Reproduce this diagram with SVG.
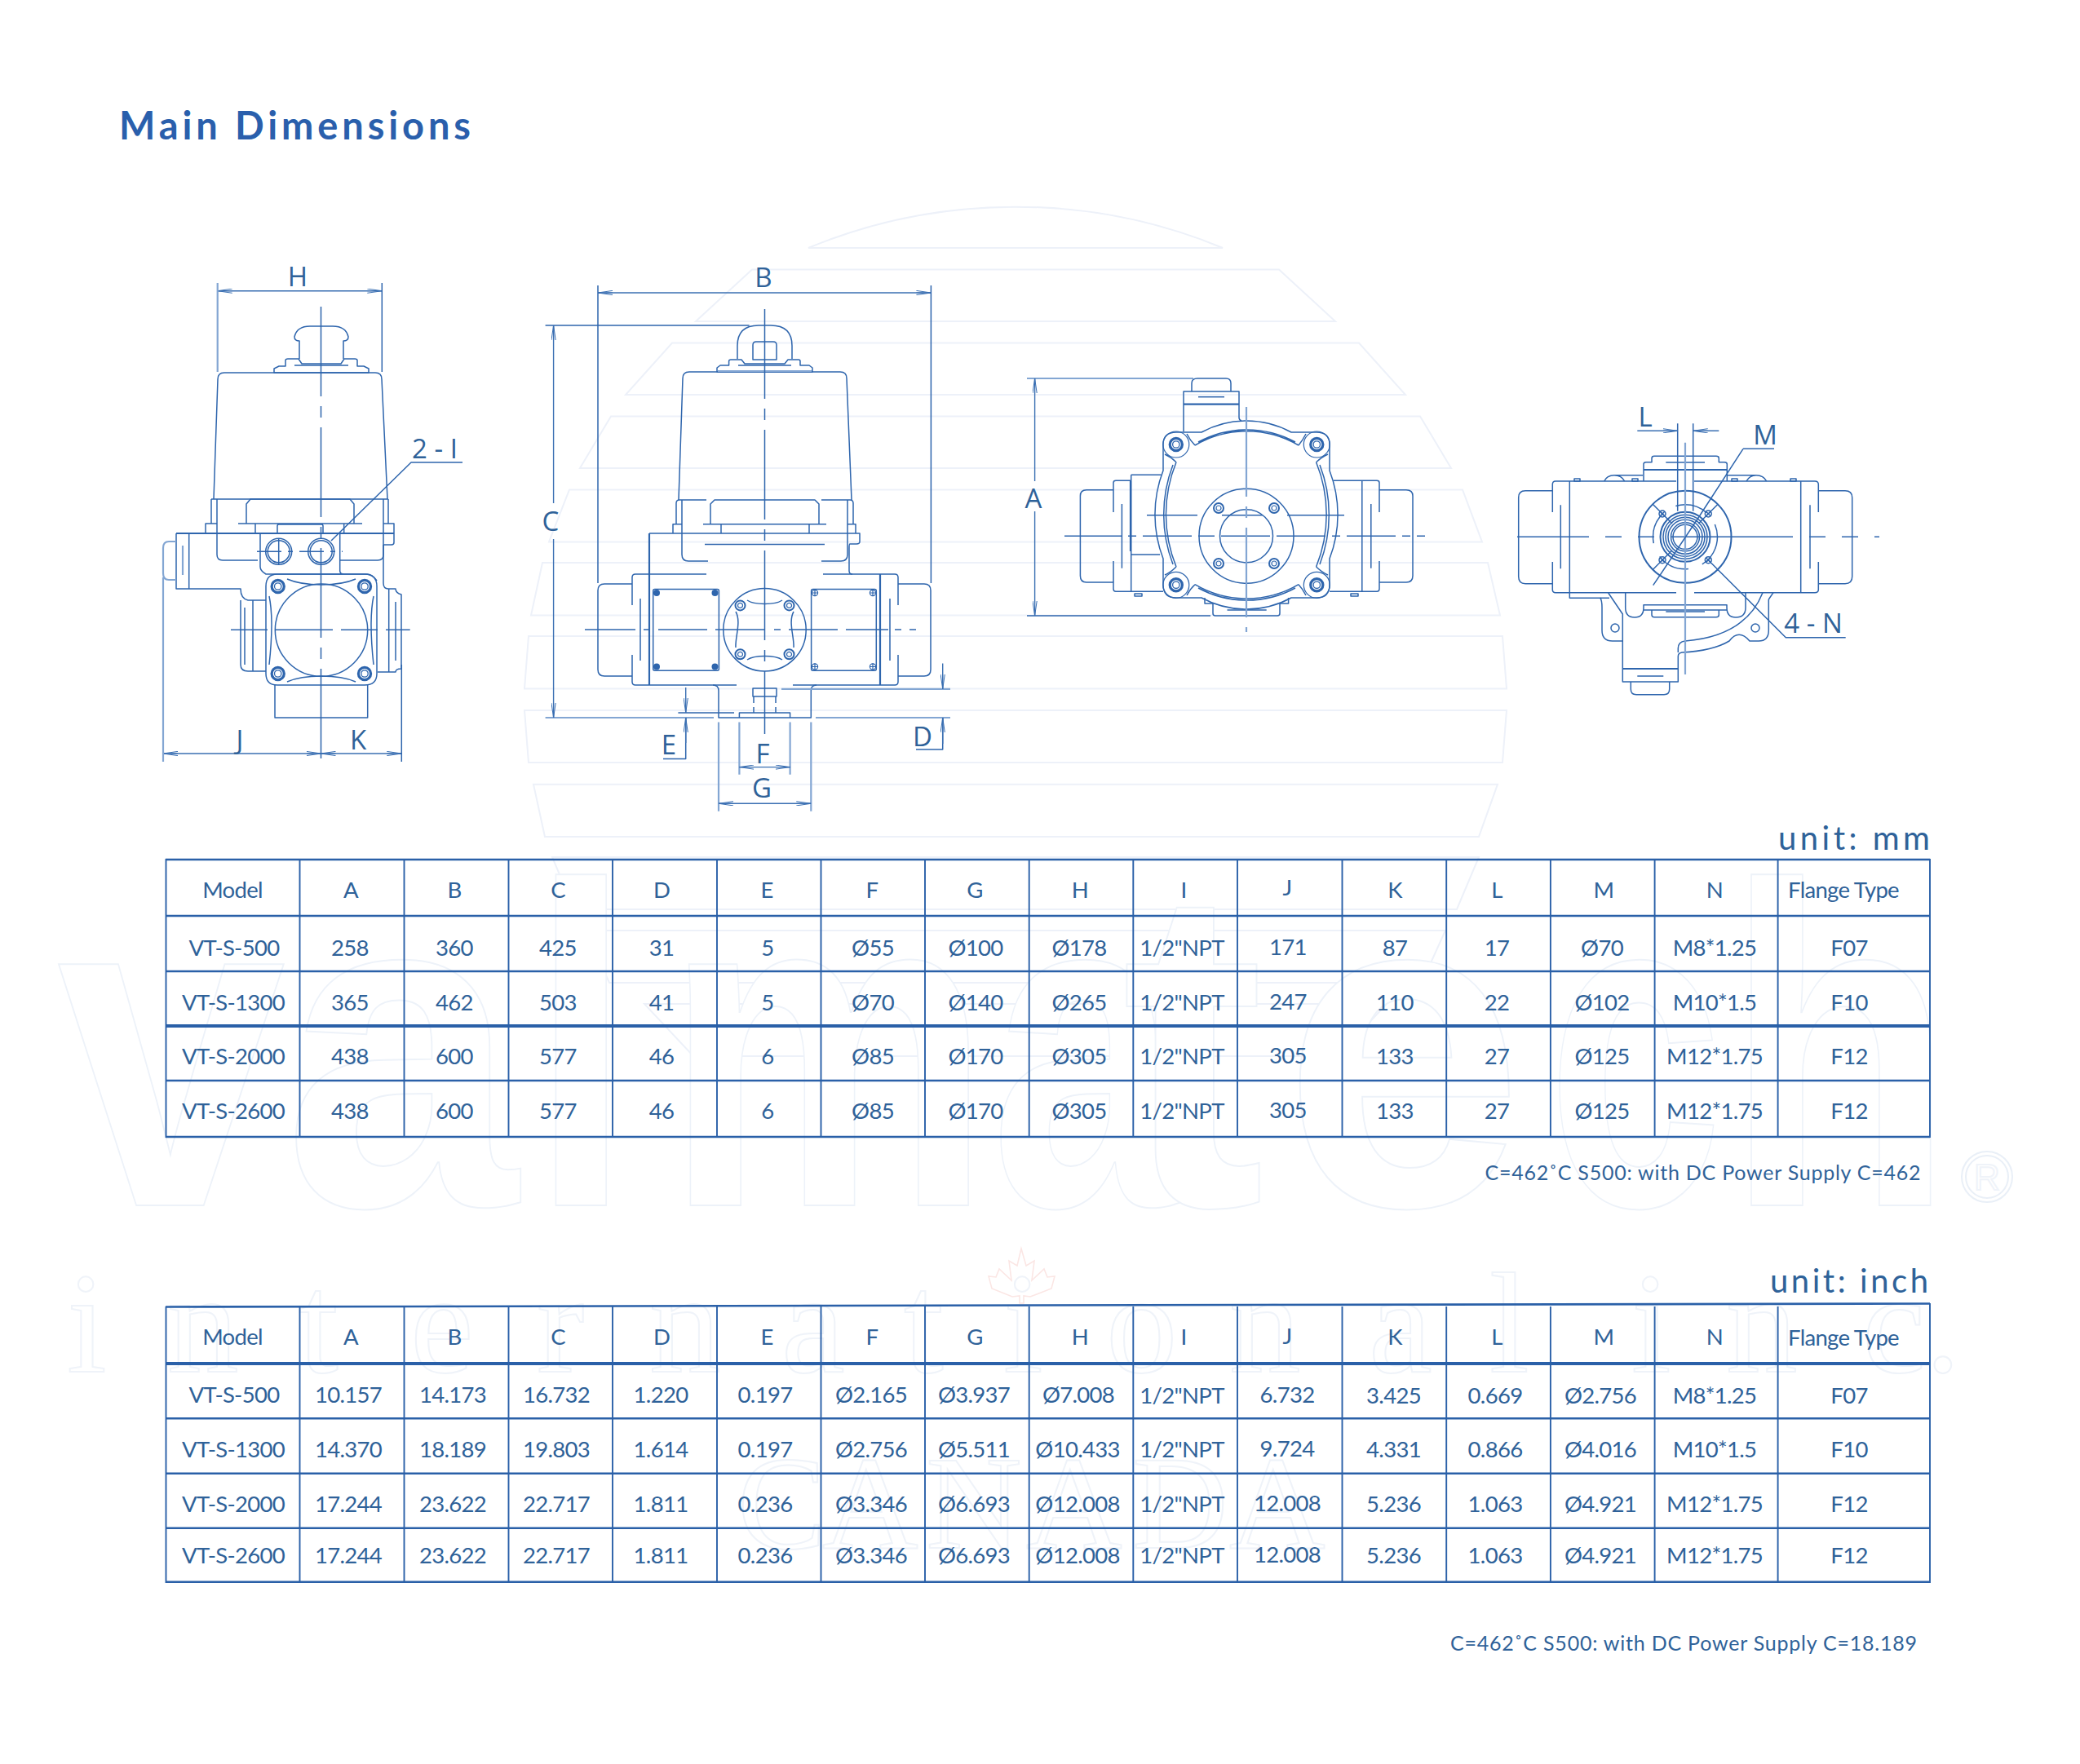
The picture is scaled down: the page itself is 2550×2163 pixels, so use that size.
<svg xmlns="http://www.w3.org/2000/svg" width="2550" height="2163" viewBox="0 0 2550 2163">
<style>
text{font-family:"Lato","Liberation Sans",sans-serif}
.t{font-size:27.500px;fill:#2f6299;text-anchor:middle;letter-spacing:-.7px}
.l{font-family:"Open Sans","Liberation Sans",sans-serif;font-size:33px;fill:#2f6299;text-anchor:middle}
.wm{font-family:"Liberation Sans",sans-serif;font-weight:700;font-size:560px;fill:#fff;stroke:#edf2f9;stroke-width:2}
.ws{font-family:"Liberation Serif",serif;fill:#fff;stroke:#eff3f9;stroke-width:2}
.band{fill:none;stroke:#edf1f9;stroke-width:2}
.d,.d *{fill:none;stroke:#2e65ad;stroke-width:1.5;stroke-linejoin:round}
.lt{stroke:#83a6d3!important;stroke-width:2.2!important}
.cl{stroke-dasharray:110 12 14 12}
.a{fill:none;stroke:#3a6fb2;stroke-width:1.4;marker-start:url(#ar);marker-end:url(#ar)}
.a1{fill:none;stroke:#3a6fb2;stroke-width:1.4;marker-start:url(#ar)}
.grid line{stroke:#2a60a8;stroke-width:1.9}
.grid .h{stroke-width:2.6}
.grid .hk{stroke-width:4}
</style>
<defs>
<marker id="ar" viewBox="0 0 18 6" refX="18" refY="3" markerWidth="18" markerHeight="6" markerUnits="userSpaceOnUse" orient="auto-start-reverse"><path d="M0 .4L18 3L0 5.6M0 3H18" fill="none" stroke="#3a6fb2" stroke-width="1"/></marker>
<g id="bolt" fill="none" stroke="#2e65ad"><circle r="7.6" stroke-width="3.2"/><circle r="4.2" stroke-width="1.3"/></g>
<g id="boltS" fill="none" stroke="#2e65ad"><circle r="6" stroke-width="2"/><circle r="3" stroke-width="1.2"/></g>
</defs>
<rect width="2550" height="2163" fill="#fff"/>
<g id="watermark">
<g id="globe" class="band">
<path d="M991 304A612 558 0 0 1 1499 304Z"/>
<path d="M922 330.500H1568L1637 394H853Z"/>
<path d="M824 420.500H1666L1723 484H767Z"/>
<path d="M749 510.500H1741L1779 574H711Z"/>
<path d="M698 600.500H1793L1817 664.500H673Z"/>
<path d="M665 690H1824L1839 754.500H651Z"/>
<path d="M648 780H1842L1847 844.500H643Z"/>
<path d="M643 871H1847L1842 935H648Z"/>
<path d="M654 961.700H1836L1813 1026H668Z"/>
<path d="M677 1051H1813L1786 1115H704Z"/>
<path d="M718 1141H1772L1743 1205H747Z"/>
<path d="M790 1231H1700L1640 1295H850Z"/>
</g>
<g id="logo">
<text class="wm" x="70" y="1478" textLength="280" lengthAdjust="spacingAndGlyphs">v</text>
<text class="wm" x="348" y="1478" textLength="287" lengthAdjust="spacingAndGlyphs">a</text>
<text class="wm" x="650" y="1478" textLength="125" lengthAdjust="spacingAndGlyphs">l</text>
<text class="wm" x="815" y="1478" textLength="400" lengthAdjust="spacingAndGlyphs">m</text>
<text class="wm" x="1215" y="1478" textLength="230" lengthAdjust="spacingAndGlyphs">a</text>
<text class="wm" x="1375" y="1478" textLength="175" lengthAdjust="spacingAndGlyphs">t</text>
<text class="wm" x="1573" y="1478" textLength="295" lengthAdjust="spacingAndGlyphs">e</text>
<text class="wm" x="1897" y="1478" textLength="215" lengthAdjust="spacingAndGlyphs">c</text>
<text class="wm" x="2115" y="1478" textLength="280" lengthAdjust="spacingAndGlyphs">h</text>
<circle cx="2436" cy="1443" r="31" fill="#fff" stroke="#e9eff7" stroke-width="2"/>
<circle cx="2436" cy="1443" r="26" fill="none" stroke="#e9eff7" stroke-width="2"/>
<text class="ws" x="2436" y="1459" font-size="44" text-anchor="middle" style="font-family:'Liberation Sans',sans-serif">R</text>
<text class="ws" font-size="175" y="1682" x="82 205 366 503 658 796 958 1108 1230 1356 1507 1678 1826 1880 2000 2116 2283 2360">international inc.</text>
<text class="ws" font-size="163" y="1898" x="904 1008 1135 1258 1388 1507">CANADA</text>
<path id="leaf" d="M1252 1531L1258 1552L1268 1546L1265 1570L1280 1556L1284 1566L1293 1565L1289 1580L1263 1590L1255 1589V1598H1250V1589L1241 1590L1216 1580L1212 1565L1221 1566L1225 1556L1240 1570L1237 1546L1247 1552Z" fill="none" stroke="#fbe6e4" stroke-width="1.6"/>
</g>
</g>

<text x="146" y="171" font-size="47" font-weight="700" fill="#2a5fac" textLength="431">Main Dimensions</text>

<g id="view-side" class="d">
<path d="M262 612L267 465Q267 457 275 457H460Q468 457 468 465L475 612"/>
<path d="M367 440V418Q361 418 361 413Q364 400 380 400H408Q424 400 427 413Q427 418 421 418V440"/>
<path d="M336 457V452L342 449H350V442Q350 440 353 440H366L370 446H418L422 440H435Q438 440 438 442V449H446L452 452V457ZM361 448H427"/>
<path d="M259 612H476M266 612V680Q266 687 273 687H316M470 612V680Q470 687 463 687H416M259 612V642M476 612V642"/>
<path d="M302 642V618L307 612H429L434 618V642M292 642H444M313 642V654M421.700 642V654M340 654V645Q340 643 342 643H394Q396 643 396 645V654"/>
<path d="M252 654V642H266M470 642H483V665Q483 668 480 668H470"/>
<path d="M216 654H483" style="stroke-width:2.200"/>
<path d="M216 654V722H295Q295 734 304 736H326M231.700 654V722"/>
<path d="M216 664H207Q200 664 200 672V703Q200 711 207 711H216M224 669V705" class="lt"/>
<path d="M295 736V815Q295 823 304 823H326M310 736V823M300 745V815"/>
<path d="M319 654V695Q319 700 326 704H450Q456 704 462 712M416.700 654V700Q416.700 704 422 704"/>
<path d="M470 668V715Q470 722 476 722H485Q485 727 492 729V820Q485 820 485 824H463M476.700 722V824M485 738V810"/>
<path d="M337 840V880H450.700V840"/>
<path d="M340 704Q326 704 326 719V826Q326 840 340 840H447Q462 840 462 826V719Q462 704 447 704H340Z"/>
<path d="M352 710Q368 717 394 717Q420 717 436 710M458 731Q452 760 458 815M352 836Q368 829 394 829Q420 829 436 836M330 731Q336 760 330 815"/>
<circle cx="394" cy="772.600" r="56.700"/>
<circle cx="341.700" cy="676.300" r="16"/><circle cx="341.700" cy="676.300" r="13.500"/>
<circle cx="393.700" cy="676.300" r="16"/><circle cx="393.700" cy="676.300" r="13.500"/>
<path d="M315 676.300H420" style="stroke-dasharray:30 8 6 8"/>
<path d="M341.700 660V692"/>
<path class="cl" d="M393.500 376V932"/>
<path d="M283 772.300H502.700" style="stroke-dasharray:45 10 70 10"/>
<path d="M406 663L504 567H567"/>
</g>
<g id="view-side-bolts"><use href="#bolt" x="340.700" y="719"/><use href="#bolt" x="447" y="719"/><use href="#bolt" x="340.700" y="826"/><use href="#bolt" x="447" y="826"/></g>

<g id="view-front" class="d">
<path d="M832 613L837 464Q837 456 845 456H1030Q1038 456 1038 464L1044 613"/>
<path d="M904 440V424Q904 399 930 399H945Q971 399 971 424V440"/>
<path d="M923 441V423Q923 419 927 419H948Q952 419 952 423V441Z"/>
<path d="M879 456V451L883 448H893.600V443Q893.600 441 896 441H909L913 446H962L966 441H979Q981 441 981 443V448H992L996 451V456Z"/>
<path class="lt" d="M880 455H995"/>
<path d="M905 448H970"/>
<path d="M829 642V617Q829 613 833 613H866M1007 613H1042Q1046 613 1046 617V642M836 613V680Q836 688 844 688H868M1039 613V680Q1039 688 1031 688H1007"/>
<path d="M871 642V618L876 613H999L1004 618V642M862 642.700H1013M884 642.700V654M992 642.700V654"/>
<path d="M825 654V642.700H836M1039 642.700H1049V654"/>
<path d="M796 654H1054V664Q1054 667 1050 667H1042Q1041 667 1041 672V700Q1041 704 1045 704"/>
<path d="M796 654V840" style="stroke-width:2.200"/>
<path d="M864 667.400H1011"/>
<path d="M866 704H779Q775 704 775 708V742M775 803V836Q775 840 779 840H903M972 840H1097Q1101 840 1101 836V803M1101 742V708Q1101 704 1097 704H1009M785 734V810M1091 734V810"/>
<path d="M1079 704V840" style="stroke-width:2.200"/>
<path d="M775 716H741Q733 716 733 724V821Q733 829 741 829H775M1101 716H1133Q1141 716 1141 724V821Q1141 829 1133 829H1101"/>
<rect x="800.700" y="722.500" width="80.700" height="99.700" rx="2"/>
<rect x="994.600" y="722.500" width="79.700" height="99.700" rx="2"/>
<circle cx="937.500" cy="772.300" r="50.700"/>
<path d="M916 736C925 742 950 742 959 736M973 750C966 762 974 782 973 794M959 809C950 803 925 803 916 809M902 794C901 782 909 762 902 750"/>
<path d="M717 772H1158.600" style="stroke-dasharray:62 10 8 10 60 10 60 12 8 10 60 10 52 8 8 10 8"/>
<path class="cl" d="M937.500 379V900"/>
<path d="M874 840Q881 840 881 847V880H994.300V847Q994.300 840 1001 840"/>
<path d="M923 844H952V854H923Z"/>
<path d="M924 854V874M951 854V874" style="stroke-dasharray:8 5"/>
<path d="M906.400 880V874H968.600V880"/>
<path class="lt" d="M668.600 880H875M1000 880H1165"/>
<path class="lt" d="M958 844.800H1165"/>
<path d="M668.600 399H918.600"/>
<path d="M831.400 874H900"/>
<path d="M733 350V715M1141.400 350V715"/>
<path d="M1155.700 880V919H1123M840.700 880V930.600H813"/>
<path d="M906.400 885.500V949.700M968.600 885.500V949.700" class="lt"/>
<path d="M881 885.500V994.800M994.300 885.500V994.800" class="lt"/>
</g>
<g id="view-front-details" fill="#2e65ad">
<circle cx="805" cy="727" r="4"/><circle cx="876.500" cy="727" r="4"/><circle cx="805" cy="817.500" r="4"/><circle cx="876.500" cy="817.500" r="4"/>
<g fill="none" stroke="#2e65ad" stroke-width="1.2">
<circle cx="999" cy="727" r="3.600"/><circle cx="1070" cy="727" r="3.600"/><circle cx="999" cy="817.500" r="3.600"/><circle cx="1070" cy="817.500" r="3.600"/>
<path d="M995 727h8M999 723v8M1066 727h8M1070 723v8M995 817.500h8M999 813.500v8M1066 817.500h8M1070 813.500v8"/>
</g>
<use href="#boltS" x="907.500" y="742.400"/><use href="#boltS" x="967.500" y="742.400"/><use href="#boltS" x="907.500" y="802.300"/><use href="#boltS" x="967.500" y="802.300"/>
</g>

<g id="view-top" class="d">
<path class="lt" d="M1259 464H1463"/>
<path d="M1259 755H1484"/>
<path d="M1461 480V470Q1461 464 1468 464H1503Q1509 464 1509 470V480"/>
<path d="M1451 529V480H1519V512Q1519 515 1522 516"/>
<path d="M1451 495.700H1519" style="stroke-width:2.200"/>
<path d="M1469 486.700H1501"/>
<path d="M1473 530A115 115 0 0 1 1583 530H1614Q1630 530 1630 545V577A150 150 0 0 1 1630 685V717Q1630 733 1614 733H1583A115 115 0 0 1 1473 733H1442Q1426 733 1426 717V685A150 150 0 0 1 1426 577V545Q1426 530 1442 530Z"/>
<path d="M1465 546A125 125 0 0 1 1592 546M1469 542A125 125 0 0 1 1588 542M1465 716.700A125 125 0 0 0 1592 716.700M1469 721A125 125 0 0 0 1588 721M1442 566.700A170 170 0 0 0 1442 695M1438 570A170 170 0 0 0 1438 692M1613.600 566.700A170 170 0 0 1 1613.600 695M1618 570A170 170 0 0 1 1618 692"/>
<path d="M1465 546Q1459 540 1455 532M1592 546Q1597 540 1601 532M1465 716.700Q1459 722 1455 730M1592 716.700Q1597 722 1601 730M1442 566.700Q1435 560 1428 557M1613.600 566.700Q1621 560 1628 557M1442 695Q1435 702 1428 705M1613.600 695Q1621 702 1628 705"/>
<path d="M1477 733V740H1487V752Q1487 755 1490 755H1566Q1569 755 1569 752V740H1579.600V733M1504.500 748H1552.700"/>
<circle cx="1528" cy="657.300" r="58"/>
<circle cx="1528" cy="657.300" r="32.500"/>
<path d="M1365 600.700H1332Q1324.400 600.700 1324.400 608V706Q1324.400 714 1332 714H1365M1691 600.700H1724Q1732 600.700 1732 608V706Q1732 714 1724 714H1691"/>
<path d="M1365 628V592Q1365 589.300 1368 589.300H1386M1365 688V722Q1365 725.300 1368 725.300H1426M1375.400 618V696.700"/>
<path d="M1386 590V676" style="stroke-width:2.200"/>
<path d="M1386.700 582.300H1423.600M1386.700 582.300V725M1386.700 680H1422"/>
<path d="M1635 589.300H1688Q1691 589.300 1691 592V628M1691 688V722Q1691 725.300 1688 725.300H1630M1669.800 589.300V725.300M1680.800 618V696.700"/>
<path d="M1391 728H1400V731H1391ZM1656 728H1665V731H1656Z"/>
<path d="M1305 657.300H1747" style="stroke-dasharray:70 8 10 8 60 8 20 8 60 8 60 8 10 8 60 8 10 8"/>
<path d="M1406 631.700H1650" style="stroke-dasharray:62 30 50 30 70"/>
<path class="lt" d="M1528 499V775" style="stroke-dasharray:110 12 14 12"/>
</g>
<g id="view-top-bolts">
<g fill="none" stroke="#2e65ad" stroke-width="1.200"><circle cx="1441.800" cy="545" r="16"/><circle cx="1614.300" cy="545" r="16"/><circle cx="1441.800" cy="717.300" r="16"/><circle cx="1614.300" cy="717.300" r="16"/></g>
<use href="#bolt" x="1441.800" y="545"/><use href="#bolt" x="1614.300" y="545"/><use href="#bolt" x="1441.800" y="717.300"/><use href="#bolt" x="1614.300" y="717.300"/>
<use href="#boltS" x="1494" y="623"/><use href="#boltS" x="1562" y="623"/><use href="#boltS" x="1494" y="691"/><use href="#boltS" x="1562" y="691"/>
</g>

<g id="view-bottom" class="d">
<path d="M1903.300 628V594Q1903.300 590 1907 590H2055M2077 590H2225Q2229.300 590 2229.300 594V628M1903.300 689V723Q1903.300 726.700 1907 726.700H2055M2077 726.700H2225Q2229.300 726.700 2229.300 723V689"/>
<path d="M1924.300 590V733.300H1973M2207.700 590V726.700"/>
<path d="M1903.300 601.700H1870Q1861.700 601.700 1861.700 610V707Q1861.700 715.700 1870 715.700H1903.300M2229.300 601.700H2262Q2270.700 601.700 2270.700 610V707Q2270.700 715.700 2262 715.700H2229.300"/>
<path d="M1913.300 619.300V697.300M2219 619.300V697.300"/>
<circle cx="2066" cy="658.300" r="56.500" style="stroke-width:2"/>
<circle cx="2066" cy="658.300" r="39.500" style="stroke-dasharray:40 18"/>
<circle cx="2066" cy="658.300" r="30.500" style="stroke-width:2"/><circle cx="2066" cy="658.300" r="27"/><circle cx="2066" cy="658.300" r="24"/><circle cx="2066" cy="658.300" r="21"/><circle cx="2066" cy="658.300" r="17.500"/><circle cx="2066" cy="658.300" r="15"/>
<path d="M2038 630m-12-12l24 24M2094.300 630m12-12l-24 24M2038 686.700m-12 12l24-24"/>
<circle cx="2038" cy="630" r="4"/><circle cx="2094.300" cy="630" r="4"/><circle cx="2038" cy="686.700" r="4"/><circle cx="2094.300" cy="686.700" r="4"/>
<path d="M2035 627l6 6M2041 627l-6 6M2091.300 627l6 6M2097.300 627l-6 6M2035 683.700l6 6M2041 683.700l-6 6M2091.300 683.700l6 6M2097.300 683.700l-6 6"/>
<path d="M2015 590V569Q2015 566.700 2018 566.700H2025V562Q2025 559.300 2028 559.300H2104Q2107.300 559.300 2107.300 562V566.700H2114Q2117.300 566.700 2117.300 569V590M2042.300 567H2090"/>
<path d="M2015 576H2117.300" style="stroke-width:2"/>
<path d="M1930 590V587H1937V590ZM2001 590V587H2008V590ZM2123 590V587H2130V590ZM2195 590V587H2202V590ZM1966.700 590Q1970 582.700 1979 582.700Q1988 582.700 1991.700 590M2141 590Q2145 582.700 2153 582.700Q2162 582.700 2165.700 590M1979 582.700H2014M2117 582.700H2153"/>
<path d="M1992.700 726.700V745Q1992.700 757 2004 757Q2015 757 2015 745V741.700H2117V745Q2117 757 2128 757Q2140 757 2140 745V726.700M2015 748H2117M2025 748V754Q2025 756.700 2028 756.700H2104Q2107.300 756.700 2107.300 754V748M2042.300 750H2090"/>
<path d="M1971.700 727L1989.300 753V836H2057.300V805Q2057.300 800.700 2062 800Q2100 798 2120 786Q2131.700 770.700 2145 786H2156Q2168.300 786 2168.300 773V735"/>
<path d="M2057.300 800V795Q2057.300 787 2066 786Q2140 780 2161 726.700M2168.300 735L2174 726.700"/>
<path d="M1961.700 733Q1964 736 1964 745V773Q1964 786 1976.700 786H1989.300"/>
<circle cx="1980" cy="770" r="5"/><circle cx="2152" cy="770" r="5"/>
<path d="M1989.300 820H2057.300" style="stroke-width:2"/>
<path d="M1999.300 836V845Q1999.300 851.700 2006 851.700H2040Q2046.700 851.700 2046.700 845V836M2007.300 829H2039.300"/>
<path d="M1860 658.300H2304" style="stroke-dasharray:88 20 20 20 20 20 150 20 20 20 20 20 120"/>
<path class="lt" d="M2066 542.700V827"/>
<path d="M2056.700 519.300V626.700M2075.700 519.300V626.700"/>
<path d="M2137 550.300H2175M2137 550.300L2082.700 634L2026.700 717.700"/>
<path d="M2262.700 781.700H2189.300L2094.300 686.700"/>
</g>

<g id="dimensions">
<path class="a" d="M266.700 356.700H468.300"/><path class="d lt" d="M266.700 347V456"/><path class="d" d="M468.300 347V456"/>
<path class="a" d="M200 924H393.500"/><path class="a" d="M393.500 924H492.300"/>
<path class="d lt" d="M200 708V934"/><path class="d" d="M492.300 815V934"/>
<path class="a" d="M733 359H1141.400"/>
<path class="a1" d="M678.600 399V617"/><path class="a1" d="M678.600 880V661"/>
<path class="a1" d="M1155.700 844.800V813.500"/><path class="a1" d="M1155.700 880V912"/>
<path class="a1" d="M840.700 874V843"/><path class="a1" d="M840.700 880V911"/>
<path class="a" d="M906.400 940.600H968.600"/>
<path class="a" d="M881 985.300H994.300"/>
<path class="a1" d="M1268.600 464V590"/><path class="a1" d="M1268.600 755V627"/>
<path class="a1" d="M2056.700 528.300H2007.300"/><path class="a1" d="M2075.700 528.300H2107.300"/>
</g>
<g id="labels">
<text class="l" x="365" y="351">H</text>
<text class="l" x="533" y="562">2 - I</text>
<text class="l" x="294" y="919">J</text>
<text class="l" x="439" y="919">K</text>
<text class="l" x="936" y="352">B</text>
<text class="l" x="675" y="651">C</text>
<text class="l" x="1131" y="915">D</text>
<text class="l" x="820" y="925">E</text>
<text class="l" x="935" y="936">F</text>
<text class="l" x="934" y="978">G</text>
<text class="l" x="1267" y="623">A</text>
<text class="l" x="2017" y="523">L</text>
<text class="l" x="2164" y="545">M</text>
<text class="l" x="2223" y="776">4 - N</text>
</g>

<g id="table-mm">
<text x="2180" y="1042" font-size="40" fill="#2f6299" textLength="186">unit: mm</text>
<g class="grid">
<line class="h" x1="203" y1="1054" x2="2366" y2="1054"/><line class="h" x1="203" y1="1123" x2="2366" y2="1123"/><line class="h" x1="203" y1="1191" x2="2366" y2="1191"/><line class="hk" x1="203" y1="1258" x2="2366" y2="1258"/><line class="h" x1="203" y1="1325" x2="2366" y2="1325"/><line class="h" x1="203" y1="1394" x2="2366" y2="1394"/>
<line x1="203.500" y1="1053" x2="203.500" y2="1395"/><line x1="367.500" y1="1054" x2="367.500" y2="1394"/><line x1="495.500" y1="1054" x2="495.500" y2="1394"/><line x1="623.500" y1="1054" x2="623.500" y2="1394"/><line x1="751" y1="1054" x2="751" y2="1394"/><line x1="879" y1="1054" x2="879" y2="1394"/><line x1="1006.500" y1="1054" x2="1006.500" y2="1394"/><line x1="1134" y1="1054" x2="1134" y2="1394"/><line x1="1261.700" y1="1054" x2="1261.700" y2="1394"/><line x1="1389.300" y1="1054" x2="1389.300" y2="1394"/><line x1="1517" y1="1054" x2="1517" y2="1394"/><line x1="1645.500" y1="1054" x2="1645.500" y2="1394"/><line x1="1773.200" y1="1054" x2="1773.200" y2="1394"/><line x1="1900.900" y1="1054" x2="1900.900" y2="1394"/><line x1="2028.600" y1="1054" x2="2028.600" y2="1394"/><line x1="2179.600" y1="1054" x2="2179.600" y2="1394"/><line x1="2366" y1="1053" x2="2366" y2="1395"/>
</g>
<g id="mm-head"><text class="t" x="285" y="1101">Model</text><text class="t" x="430" y="1101">A</text><text class="t" x="557" y="1101">B</text><text class="t" x="684" y="1101">C</text><text class="t" x="811" y="1101">D</text><text class="t" x="940" y="1101">E</text><text class="t" x="1069" y="1101">F</text><text class="t" x="1195" y="1101">G</text><text class="t" x="1324" y="1101">H</text><text class="t" x="1451" y="1101">I</text><text class="t" x="1578" y="1098">J</text><text class="t" x="1710" y="1101">K</text><text class="t" x="1835" y="1101">L</text><text class="t" x="1966" y="1101">M</text><text class="t" x="2102" y="1101">N</text><text class="t" x="2260" y="1101">Flange Type</text></g>
<g id="mm-r1"><text class="t" x="287" y="1172">VT-S-500</text><text class="t" x="429" y="1172">258</text><text class="t" x="557" y="1172">360</text><text class="t" x="684" y="1172">425</text><text class="t" x="811" y="1172">31</text><text class="t" x="941" y="1172">5</text><text class="t" x="1070" y="1172">Ø55</text><text class="t" x="1196" y="1172">Ø100</text><text class="t" x="1323" y="1172">Ø178</text><text class="t" x="1449" y="1172">1/2"NPT</text><text class="t" x="1579" y="1171">171</text><text class="t" x="1710" y="1172">87</text><text class="t" x="1835" y="1172">17</text><text class="t" x="1964" y="1172">Ø70</text><text class="t" x="2102" y="1172">M8*1.25</text><text class="t" x="2267" y="1172">F07</text></g>
<g id="mm-r2"><text class="t" x="286" y="1239">VT-S-1300</text><text class="t" x="429" y="1239">365</text><text class="t" x="557" y="1239">462</text><text class="t" x="684" y="1239">503</text><text class="t" x="811" y="1239">41</text><text class="t" x="941" y="1239">5</text><text class="t" x="1070" y="1239">Ø70</text><text class="t" x="1196" y="1239">Ø140</text><text class="t" x="1323" y="1239">Ø265</text><text class="t" x="1449" y="1239">1/2"NPT</text><text class="t" x="1579" y="1238">247</text><text class="t" x="1710" y="1239">110</text><text class="t" x="1835" y="1239">22</text><text class="t" x="1964" y="1239">Ø102</text><text class="t" x="2102" y="1239">M10*1.5</text><text class="t" x="2267" y="1239">F10</text></g>
<g id="mm-r3"><text class="t" x="286" y="1305">VT-S-2000</text><text class="t" x="429" y="1305">438</text><text class="t" x="557" y="1305">600</text><text class="t" x="684" y="1305">577</text><text class="t" x="811" y="1305">46</text><text class="t" x="941" y="1305">6</text><text class="t" x="1070" y="1305">Ø85</text><text class="t" x="1196" y="1305">Ø170</text><text class="t" x="1323" y="1305">Ø305</text><text class="t" x="1449" y="1305">1/2"NPT</text><text class="t" x="1579" y="1304">305</text><text class="t" x="1710" y="1305">133</text><text class="t" x="1835" y="1305">27</text><text class="t" x="1964" y="1305">Ø125</text><text class="t" x="2102" y="1305">M12*1.75</text><text class="t" x="2267" y="1305">F12</text></g>
<g id="mm-r4"><text class="t" x="286" y="1372">VT-S-2600</text><text class="t" x="429" y="1372">438</text><text class="t" x="557" y="1372">600</text><text class="t" x="684" y="1372">577</text><text class="t" x="811" y="1372">46</text><text class="t" x="941" y="1372">6</text><text class="t" x="1070" y="1372">Ø85</text><text class="t" x="1196" y="1372">Ø170</text><text class="t" x="1323" y="1372">Ø305</text><text class="t" x="1449" y="1372">1/2"NPT</text><text class="t" x="1579" y="1371">305</text><text class="t" x="1710" y="1372">133</text><text class="t" x="1835" y="1372">27</text><text class="t" x="1964" y="1372">Ø125</text><text class="t" x="2102" y="1372">M12*1.75</text><text class="t" x="2267" y="1372">F12</text></g>
<text x="1820.500" y="1447" font-size="25" fill="#2f6299" textLength="534">C=462˚C S500: with DC Power Supply C=462</text>
</g>

<g id="table-inch">
<text x="2170" y="1585" font-size="40" fill="#2f6299" textLength="194">unit: inch</text>
<g class="grid">
<line class="h" x1="203" y1="1602.500" x2="2366" y2="1598.500"/><line class="hk" x1="203" y1="1672" x2="2366" y2="1672"/><line class="h" x1="203" y1="1739.300" x2="2366" y2="1739.300"/><line class="h" x1="203" y1="1806.700" x2="2366" y2="1806.700"/><line class="h" x1="203" y1="1873.700" x2="2366" y2="1873.700"/><line class="h" x1="203" y1="1939.700" x2="2366" y2="1939.700"/>
<line x1="203.500" y1="1602" x2="203.500" y2="1941"/><line x1="367.500" y1="1603" x2="367.500" y2="1940"/><line x1="495.500" y1="1603" x2="495.500" y2="1940"/><line x1="623.500" y1="1602" x2="623.500" y2="1940"/><line x1="751" y1="1602" x2="751" y2="1940"/><line x1="879" y1="1602" x2="879" y2="1940"/><line x1="1006.500" y1="1602" x2="1006.500" y2="1940"/><line x1="1134" y1="1602" x2="1134" y2="1940"/><line x1="1261.700" y1="1602" x2="1261.700" y2="1940"/><line x1="1389.300" y1="1602" x2="1389.300" y2="1940"/><line x1="1517" y1="1602" x2="1517" y2="1940"/><line x1="1645.500" y1="1602" x2="1645.500" y2="1940"/><line x1="1773.200" y1="1602" x2="1773.200" y2="1940"/><line x1="1900.900" y1="1602" x2="1900.900" y2="1940"/><line x1="2028.600" y1="1602" x2="2028.600" y2="1940"/><line x1="2179.600" y1="1602" x2="2179.600" y2="1940"/><line x1="2366" y1="1598" x2="2366" y2="1941"/>
</g>
<g id="in-head"><text class="t" x="285" y="1649">Model</text><text class="t" x="430" y="1649">A</text><text class="t" x="557" y="1649">B</text><text class="t" x="684" y="1649">C</text><text class="t" x="811" y="1649">D</text><text class="t" x="940" y="1649">E</text><text class="t" x="1069" y="1649">F</text><text class="t" x="1195" y="1649">G</text><text class="t" x="1324" y="1649">H</text><text class="t" x="1451" y="1649">I</text><text class="t" x="1578" y="1648">J</text><text class="t" x="1710" y="1649">K</text><text class="t" x="1835" y="1649">L</text><text class="t" x="1966" y="1649">M</text><text class="t" x="2102" y="1649">N</text><text class="t" x="2260" y="1650">Flange Type</text></g>
<g id="in-r1"><text class="t" x="287" y="1720">VT-S-500</text><text class="t" x="427" y="1720">10.157</text><text class="t" x="555" y="1720">14.173</text><text class="t" x="682" y="1720">16.732</text><text class="t" x="810" y="1720">1.220</text><text class="t" x="938" y="1720">0.197</text><text class="t" x="1068" y="1720">Ø2.165</text><text class="t" x="1194" y="1720">Ø3.937</text><text class="t" x="1322" y="1720">Ø7.008</text><text class="t" x="1449" y="1721">1/2"NPT</text><text class="t" x="1578" y="1720">6.732</text><text class="t" x="1708.500" y="1721">3.425</text><text class="t" x="1833" y="1721">0.669</text><text class="t" x="1962" y="1721">Ø2.756</text><text class="t" x="2102" y="1721">M8*1.25</text><text class="t" x="2267" y="1721">F07</text></g>
<g id="in-r2"><text class="t" x="286" y="1787">VT-S-1300</text><text class="t" x="427" y="1787">14.370</text><text class="t" x="555" y="1787">18.189</text><text class="t" x="682" y="1787">19.803</text><text class="t" x="810" y="1787">1.614</text><text class="t" x="938" y="1787">0.197</text><text class="t" x="1068" y="1787">Ø2.756</text><text class="t" x="1194" y="1787">Ø5.511</text><text class="t" x="1321" y="1787">Ø10.433</text><text class="t" x="1449" y="1787">1/2"NPT</text><text class="t" x="1578" y="1786">9.724</text><text class="t" x="1708.500" y="1787">4.331</text><text class="t" x="1833" y="1787">0.866</text><text class="t" x="1962" y="1787">Ø4.016</text><text class="t" x="2102" y="1787">M10*1.5</text><text class="t" x="2267" y="1787">F10</text></g>
<g id="in-r3"><text class="t" x="286" y="1854">VT-S-2000</text><text class="t" x="427" y="1854">17.244</text><text class="t" x="555" y="1854">23.622</text><text class="t" x="682" y="1854">22.717</text><text class="t" x="810" y="1854">1.811</text><text class="t" x="938" y="1854">0.236</text><text class="t" x="1068" y="1854">Ø3.346</text><text class="t" x="1194" y="1854">Ø6.693</text><text class="t" x="1321" y="1854">Ø12.008</text><text class="t" x="1449" y="1854">1/2"NPT</text><text class="t" x="1578" y="1853">12.008</text><text class="t" x="1708.500" y="1854">5.236</text><text class="t" x="1833" y="1854">1.063</text><text class="t" x="1962" y="1854">Ø4.921</text><text class="t" x="2102" y="1854">M12*1.75</text><text class="t" x="2267" y="1854">F12</text></g>
<g id="in-r4"><text class="t" x="286" y="1917">VT-S-2600</text><text class="t" x="427" y="1917">17.244</text><text class="t" x="555" y="1917">23.622</text><text class="t" x="682" y="1917">22.717</text><text class="t" x="810" y="1917">1.811</text><text class="t" x="938" y="1917">0.236</text><text class="t" x="1068" y="1917">Ø3.346</text><text class="t" x="1194" y="1917">Ø6.693</text><text class="t" x="1321" y="1917">Ø12.008</text><text class="t" x="1449" y="1917">1/2"NPT</text><text class="t" x="1578" y="1916">12.008</text><text class="t" x="1708.500" y="1917">5.236</text><text class="t" x="1833" y="1917">1.063</text><text class="t" x="1962" y="1917">Ø4.921</text><text class="t" x="2102" y="1917">M12*1.75</text><text class="t" x="2267" y="1917">F12</text></g>
<text x="1778" y="2024" font-size="25" fill="#2f6299" textLength="572">C=462˚C S500: with DC Power Supply C=18.189</text>
</g>
</svg>
